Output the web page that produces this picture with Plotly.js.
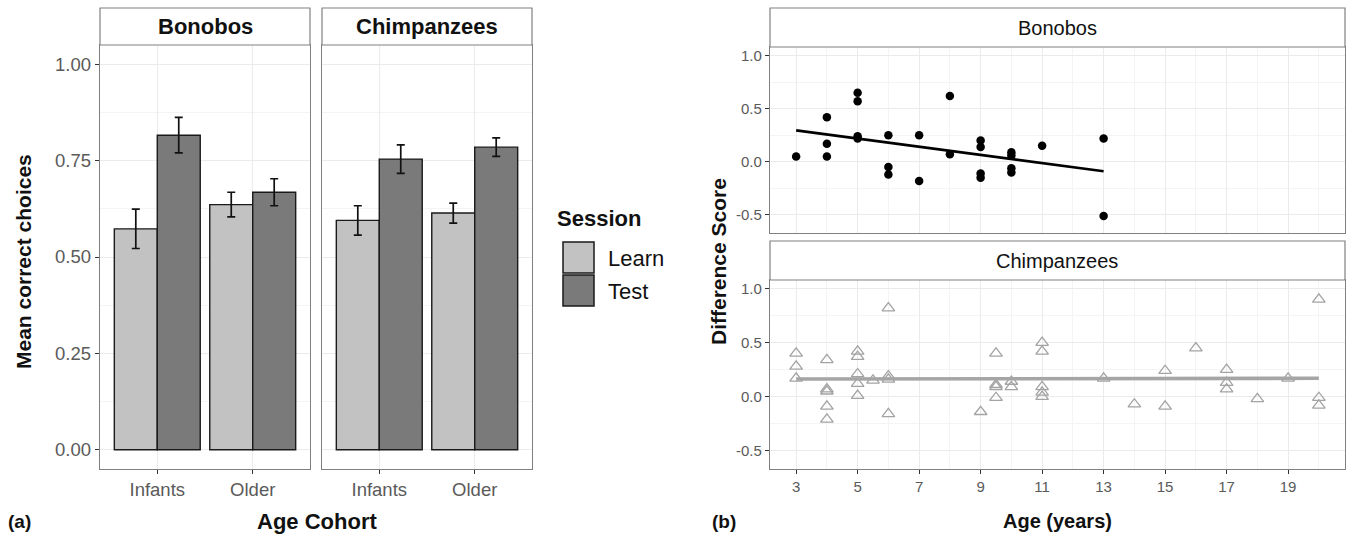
<!DOCTYPE html>
<html><head><meta charset="utf-8">
<script src="https://cdn.plot.ly/plotly-3.0.1.min.js"></script>
<style>html,body{margin:0;padding:0;background:#fff}#chart{width:1355px;height:542px}</style>
</head><body><div id="chart"></div>
<script>
// ---- data: panel (a) ----
const cohorts = ['Infants', 'Older'];
const sessions = ['Learn', 'Test'];
const bonoboLearn = [0.573, 0.636];
const bonoboLearnErr = [0.051, 0.032];
const bonoboTest = [0.816, 0.668];
const bonoboTestErr = [0.046, 0.035];
const chimpLearn = [0.595, 0.614];
const chimpLearnErr = [0.038, 0.026];
const chimpTest = [0.754, 0.785];
const chimpTestErr = [0.037, 0.024];

// ---- data: panel (b) ----
const bonoboAge  = [3, 4, 4, 4, 5, 5, 5, 5, 6, 6, 6, 7, 7, 8, 8, 9, 9, 9, 9, 10, 10, 10, 10, 11, 13, 13];
const bonoboDiff = [0.05, 0.42, 0.17, 0.05, 0.65, 0.57, 0.24, 0.22, 0.25, -0.05, -0.12, 0.25, -0.18, 0.62, 0.07, 0.20, 0.14, -0.11, -0.15, 0.09, 0.06, -0.06, -0.10, 0.15, 0.22, -0.51];
const chimpAge  = [3, 3, 3, 4, 4, 4, 4, 4, 5, 5, 5, 5, 5, 5.5, 6, 6, 6, 6, 9, 9.5, 9.5, 9.5, 9.5, 10, 10, 11, 11, 11, 11, 11, 13, 14, 15, 15, 16, 17, 17, 17, 18, 19, 20, 20, 20];
const chimpDiff = [0.40, 0.28, 0.17, 0.34, 0.07, 0.05, -0.09, -0.21, 0.42, 0.37, 0.21, 0.12, 0.01, 0.15, 0.82, 0.19, 0.16, -0.16, -0.14, 0.40, 0.11, 0.09, -0.01, 0.14, 0.09, 0.50, 0.42, 0.09, 0.04, 0.00, 0.17, -0.07, 0.24, -0.09, 0.45, 0.25, 0.13, 0.07, -0.02, 0.17, 0.90, -0.01, -0.08];
const yTicksA = [0, 0.25, 0.5, 0.75, 1];
const yTickTextA = ['0.00', '0.25', '0.50', '0.75', '1.00'];
const yTicksB = [-0.5, 0, 0.5, 1];
const yTickTextB = ['-0.5', '0.0', '0.5', '1.0'];
const xTicksB = [3, 5, 7, 9, 11, 13, 15, 17, 19];

// least-squares fit (like geom_smooth(method = "lm"))
function lmLine(xs, ys) {
  const n = xs.length;
  const mx = xs.reduce((a, b) => a + b, 0) / n;
  const my = ys.reduce((a, b) => a + b, 0) / n;
  let sxy = 0, sxx = 0;
  for (let i = 0; i < n; i++) { sxy += (xs[i] - mx) * (ys[i] - my); sxx += (xs[i] - mx) ** 2; }
  const b = sxy / sxx, a = my - b * mx;
  const x0 = Math.min(...xs), x1 = Math.max(...xs);
  return { x: [x0, x1], y: [a + b * x0, a + b * x1] };
}
const bFit = lmLine(bonoboAge, bonoboDiff);
const cFit = lmLine(chimpAge, chimpDiff);

const W = 1355, H = 542;
const px = v => v / W;
const py = v => 1 - v / H;

const LEARN = '#c2c2c2', TEST = '#7a7a7a';
const sessionColors = [LEARN, TEST];
const errStyle = { type: 'data', color: '#111', thickness: 1.7, width: 4 };
const barLine = { color: '#1a1a1a', width: 1.4 };
const SANS = 'Liberation Sans, Arial, sans-serif';

const traces = [
  { type: 'bar', name: 'Learn', legendgroup: 'Learn', x: cohorts, y: bonoboLearn, xaxis: 'x', yaxis: 'y',
    marker: { color: LEARN, line: barLine }, error_y: Object.assign({ array: bonoboLearnErr }, errStyle) },
  { type: 'bar', name: 'Test', legendgroup: 'Test', x: cohorts, y: bonoboTest, xaxis: 'x', yaxis: 'y',
    marker: { color: TEST, line: barLine }, error_y: Object.assign({ array: bonoboTestErr }, errStyle) },
  { type: 'bar', name: 'Learn', legendgroup: 'Learn', x: cohorts, y: chimpLearn, xaxis: 'x2', yaxis: 'y2',
    marker: { color: LEARN, line: barLine }, error_y: Object.assign({ array: chimpLearnErr }, errStyle) },
  { type: 'bar', name: 'Test', legendgroup: 'Test', x: cohorts, y: chimpTest, xaxis: 'x2', yaxis: 'y2',
    marker: { color: TEST, line: barLine }, error_y: Object.assign({ array: chimpTestErr }, errStyle) },
  { type: 'scatter', mode: 'lines', x: bFit.x, y: bFit.y, xaxis: 'x3', yaxis: 'y3',
    line: { color: '#000', width: 2.6 }, hoverinfo: 'skip' },
  { type: 'scatter', mode: 'markers', x: bonoboAge, y: bonoboDiff, xaxis: 'x3', yaxis: 'y3',
    marker: { symbol: 'circle', color: '#000', size: 8.5 }, name: 'Bonobos' },
  { type: 'scatter', mode: 'markers', x: chimpAge, y: chimpDiff, xaxis: 'x4', yaxis: 'y4',
    marker: { symbol: 'triangle-up-open', color: '#a3a3a3', size: 11, line: { width: 1.3 } }, name: 'Chimpanzees' },
  { type: 'scatter', mode: 'lines', x: cFit.x, y: cFit.y, xaxis: 'x4', yaxis: 'y4',
    line: { color: '#a5a5a5', width: 3.6 }, hoverinfo: 'skip' }
];

const grid = '#ebebeb', minorGrid = '#f4f4f4', border = '#808080';
const tickFontA = { family: SANS, size: 18.5, color: '#5a5a5a' };
const tickFontB = { family: SANS, size: 15, color: '#5a5a5a' };
const baseAx = { showline: true, mirror: true, linecolor: border, linewidth: 1.2, zeroline: false,
  showgrid: true, gridcolor: grid, gridwidth: 1, tickcolor: '#333', ticklen: 4 };
function xa(dom, anchor, extra) { return Object.assign({}, baseAx, { domain: dom, anchor: anchor }, extra); }

// manual legend (ggplot-style large keys)
const legendShapes = sessions.map((s, i) => ({
  type: 'rect', xref: 'paper', yref: 'paper', x0: px(563), x1: px(594),
  y0: py(273 + i * 33), y1: py(242 + i * 33), fillcolor: sessionColors[i],
  line: { color: '#1a1a1a', width: 1.5 }, layer: 'above' }));
const legendTexts = sessions.map((s, i) => ({
  text: s, x: px(606), y: py(258 + i * 33), xanchor: 'left', size: 22, fam: SANS }));

const strips = [[100, 310, 8, 45], [322, 532, 8, 45], [770, 1345, 8, 47], [770, 1345, 241, 280]]
  .map(r => ({ type: 'rect', xref: 'paper', yref: 'paper', x0: px(r[0]), x1: px(r[1]), y0: py(r[3]), y1: py(r[2]),
    fillcolor: '#fff', line: { color: border, width: 1.2 }, layer: 'above' }));

const annots = [
  { text: '<b>Bonobos</b>', x: px(205), y: py(27), size: 22, fam: SANS },
  { text: '<b>Chimpanzees</b>', x: px(427), y: py(27), size: 22, fam: SANS },
  { text: 'Bonobos', x: px(1057), y: py(28), size: 20, fam: SANS },
  { text: 'Chimpanzees', x: px(1057), y: py(261), size: 20, fam: SANS },
  { text: '<b>Mean correct choices</b>', x: px(23), y: py(262), size: 21, angle: -90, fam: SANS },
  { text: '<b>Age Cohort</b>', x: px(317), y: py(521), size: 22, fam: SANS },
  { text: '<b>(a)</b>', x: px(19), y: py(521), size: 19, fam: SANS },
  { text: '<b>Difference Score</b>', x: px(718), y: py(262), size: 21, angle: -90, fam: SANS },
  { text: '<b>Age (years)</b>', x: px(1057), y: py(521), size: 20, fam: SANS },
  { text: '<b>(b)</b>', x: px(724), y: py(521), size: 19, fam: SANS },
  { text: '<b>Session</b>', x: px(555), y: py(219), xanchor: 'left', size: 22, fam: SANS }
].concat(legendTexts).map(a => ({ text: a.text, x: a.x, y: a.y, xref: 'paper', yref: 'paper',
  xanchor: a.xanchor || 'center', yanchor: 'middle', showarrow: false, textangle: a.angle || 0,
  font: { family: a.fam, size: a.size, color: '#111' } }));

const layout = {
  width: W, height: H,
  margin: { l: 0, r: 0, t: 0, b: 0 },
  paper_bgcolor: '#fff', plot_bgcolor: '#fff',
  barmode: 'group', bargap: 0.1, bargroupgap: 0,
  showlegend: false,
  xaxis: xa([px(100), px(310)], 'y', { type: 'category', range: [-0.6, 1.6], ticks: 'outside', tickfont: tickFontA }),
  yaxis: xa([py(469), py(45)], 'x', { range: [-0.05, 1.05], tickmode: 'array', tickvals: yTicksA, ticktext: yTickTextA,
    ticks: 'outside', tickfont: tickFontA, minor: { dtick: 0.125, tick0: 0, showgrid: true, gridcolor: minorGrid, ticks: '' } }),
  xaxis2: xa([px(322), px(532)], 'y2', { type: 'category', range: [-0.6, 1.6], ticks: 'outside', tickfont: tickFontA }),
  yaxis2: xa([py(469), py(45)], 'x2', { matches: 'y', range: [-0.05, 1.05], tickmode: 'array', tickvals: yTicksA,
    showticklabels: false, ticks: '', minor: { dtick: 0.125, tick0: 0, showgrid: true, gridcolor: minorGrid, ticks: '' } }),
  xaxis3: xa([px(770), px(1345)], 'y3', { range: [2.15, 20.85], tickmode: 'array', tickvals: xTicksB, showticklabels: false, ticks: '',
    minor: { tick0: 4, dtick: 2, showgrid: true, gridcolor: minorGrid, ticks: '' } }),
  yaxis3: xa([py(233), py(47)], 'x3', { range: [-0.67, 1.08], tickmode: 'array', tickvals: yTicksB, ticktext: yTickTextB,
    ticks: 'outside', tickfont: tickFontB, minor: { tick0: -0.75, dtick: 0.5, showgrid: true, gridcolor: minorGrid, ticks: '' } }),
  xaxis4: xa([px(770), px(1345)], 'y4', { range: [2.15, 20.85], tickmode: 'array', tickvals: xTicksB, ticks: 'outside', tickfont: tickFontB,
    minor: { tick0: 4, dtick: 2, showgrid: true, gridcolor: minorGrid, ticks: '' } }),
  yaxis4: xa([py(469), py(280)], 'x4', { range: [-0.67, 1.08], tickmode: 'array', tickvals: yTicksB, ticktext: yTickTextB,
    ticks: 'outside', tickfont: tickFontB, minor: { tick0: -0.75, dtick: 0.5, showgrid: true, gridcolor: minorGrid, ticks: '' } }),
  shapes: strips.concat(legendShapes),
  annotations: annots
};

Plotly.newPlot('chart', traces, layout, { staticPlot: true, displayModeBar: false });
</script>
</body></html>
